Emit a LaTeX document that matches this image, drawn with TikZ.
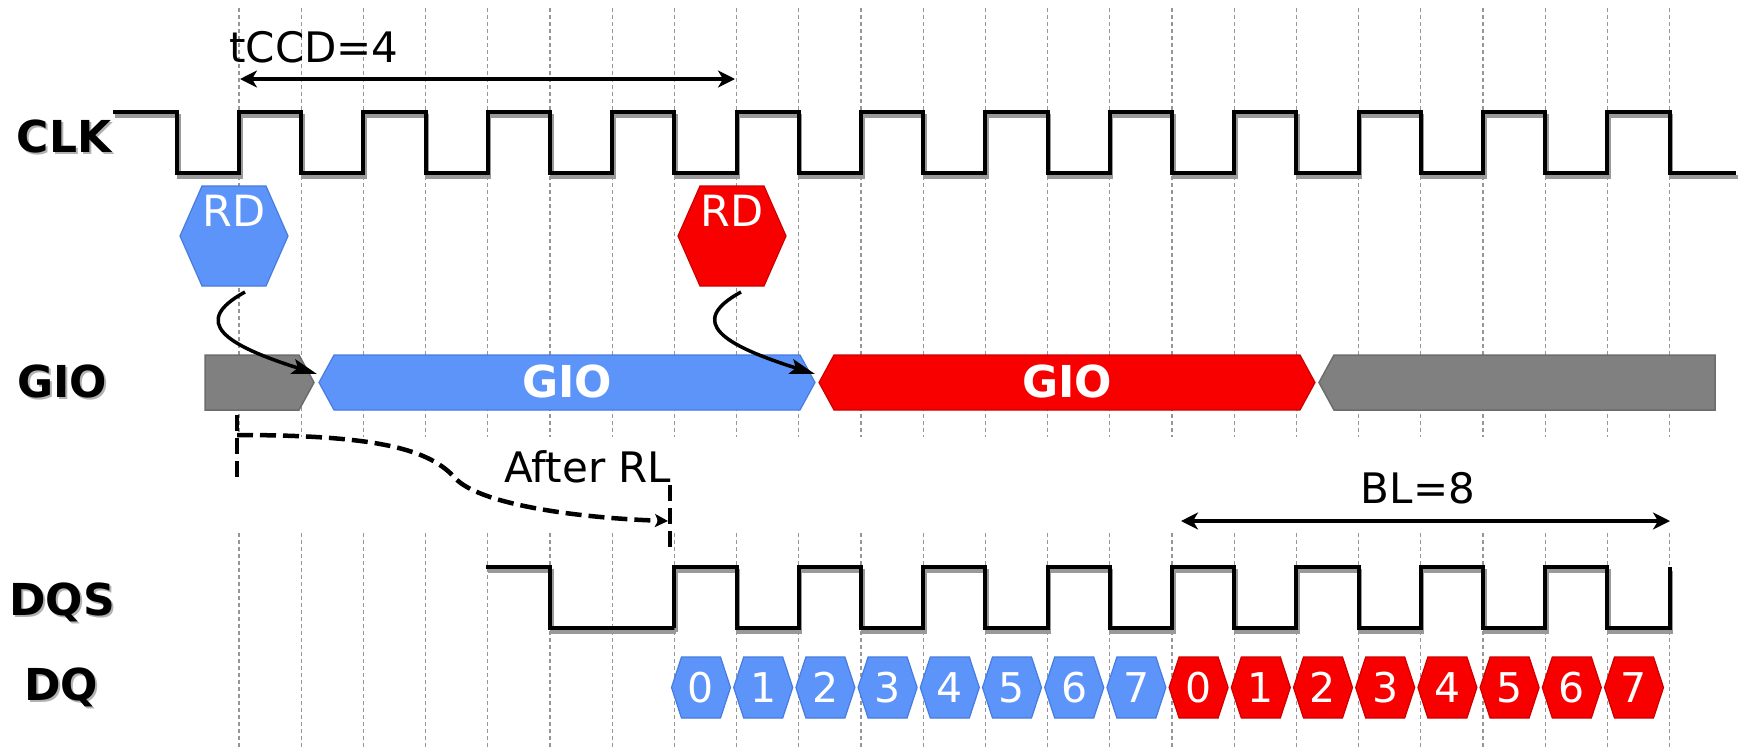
\documentclass[tikz,border=0pt]{standalone}
\usepackage{fontspec}
\setmainfont{DejaVu Sans}
\usetikzlibrary{arrows.meta}

\definecolor{busblue}{RGB}{92,148,250}
\definecolor{busbluedk}{RGB}{72,124,222}
\definecolor{busred}{RGB}{248,0,0}
\definecolor{busreddk}{RGB}{205,0,0}
\definecolor{busgray}{RGB}{128,128,128}
\definecolor{busgraydk}{RGB}{108,108,108}
\definecolor{gridgray}{RGB}{150,150,150}

% hexagon with pointed left/right ends: style, cx, cy, half width, half height, inset
\newcommand{\hexat}[6]{\filldraw[#1] ({#2-#4},{#3}) -- ({#2-#4+#6},{#3-#5}) -- ({#2+#4-#6},{#3-#5}) -- ({#2+#4},{#3}) -- ({#2+#4-#6},{#3+#5}) -- ({#2-#4+#6},{#3+#5}) -- cycle;}
% bus segment between y=355 and y=410: style, left tip x, right tip x, left slant, right slant
\newcommand{\busat}[5]{\filldraw[#1] (#2,382.5) -- ({#2+#4},355) -- ({#3-#5},355) -- (#3,382.5) -- ({#3-#5},410) -- ({#2+#4},410) -- cycle;}

\tikzset{
  gridline/.style={draw=gridgray, line width=1.3, dash pattern=on 4 off 3},
  wave/.style={draw=black, line width=4, line join=miter},
  waveshadow/.style={draw=black!40, line width=4, line join=miter, shift={(1.5,3.5)}},
  txt/.style={font=\fontsize{42}{48}\selectfont, inner sep=0, anchor=base},
  lbl/.style={font=\fontsize{44}{50}\selectfont\bfseries, inner sep=0, anchor=base},
  lblshadow/.style={lbl, text=black!30},
  bustxt/.style={font=\fontsize{44}{50}\selectfont\bfseries, text=white, inner sep=0, anchor=base},
  hextxt/.style={font=\fontsize{43}{50}\selectfont, text=white, inner sep=0, anchor=base},
  digtxt/.style={font=\fontsize{41}{48}\selectfont, text=white, inner sep=0, anchor=base},
  hexblue/.style={fill=busblue, draw=busbluedk, line width=1.2},
  hexred/.style={fill=busred, draw=busreddk, line width=1.2},
  busgrayst/.style={fill=busgray, draw=busgraydk, line width=1.5},
  span/.style={line width=4, {Stealth[length=17,width=17,inset=5]}-{Stealth[length=17,width=17,inset=5]}},
  flow/.style={line width=3.5, -{Stealth[length=25,width=15,inset=5]}},
  rldash/.style={line width=4.5, dash pattern=on 16 off 7},
}

\begin{document}
\begin{tikzpicture}[x=1pt, y=-1pt]
\useasboundingbox (0,0) rectangle (1743,748);
\fill[white] (0,0) rectangle (1743,748);

% clock grid
\foreach \k in {0,...,23} {
  \pgfmathsetmacro\gx{239+62.2*\k}
  \draw[gridline] (\gx,8) -- (\gx,437) (\gx,533) -- (\gx,748);
}

% signal names
\foreach \nm/\yy/\xx in {CLK/152/64, GIO/397/62, DQS/615/62, DQ/700/61} {
  \node[lblshadow] (\nm S) at (\xx+2,\yy+2.5) {\nm};
  \node[lbl] (\nm) at (\xx,\yy) {\nm};
}

% CLK waveform
\foreach \st in {waveshadow, wave} {
  \draw[\st] (113,112) -- (177,112) -- (177,173) -- (239,173)
    \foreach \k in {0,2,...,22} { -- ({239+62.2*\k},173) -- ({239+62.2*\k},112)
      -- ({239+62.2*(\k+1)},112) -- ({239+62.2*(\k+1)},173) } -- (1736,173);
}

% tCCD span
\node[txt] (tccd) at (314,62) {tCCD=4};
\coordinate (tccdL) at (240,79);
\coordinate (tccdR) at (735,79);
\draw[span] (tccdL) -- (tccdR);

% read commands
\hexat{hexblue}{234}{236}{54}{50}{22}
\hexat{hexred}{732}{236}{54}{50}{22}
\node[hextxt] (rdA) at (234,226) {RD};
\node[hextxt] (rdB) at (732,226) {RD};

% GIO bus
\busat{busgrayst}{205}{314}{0}{15}
\busat{hexblue}{319}{815}{15}{15}
\busat{hexred}{819}{1315}{15}{15}
\busat{busgrayst}{1319}{1715}{15}{0}
\node[bustxt] (gioA) at (567,397) {GIO};
\node[bustxt] (gioB) at (1067,397) {GIO};

% command to bus arrows
\coordinate (rdAfoot) at (245,292);
\coordinate (rdBfoot) at (741,292);
\coordinate (gioAin) at (317,374);
\coordinate (gioBin) at (815,374);
\draw[flow] (rdAfoot) .. controls +(-55,30) and +(-92,-29) .. (gioAin);
\draw[flow] (rdBfoot) .. controls +(-55,30) and +(-92,-29) .. (gioBin);

% read latency
\coordinate (rlStart) at (237,435);
\coordinate (rlMid) at (455,478);
\coordinate (rlEnd) at (668,521);
\draw[rldash] (237,415) -- (237,477);
\draw[rldash] (670,485) -- (670,548);
\draw[rldash, -{Stealth[length=13,width=13,inset=3]}] (rlStart) .. controls (380,435) and (430,450) .. (rlMid)
  .. controls (480,505) and (580,518) .. (rlEnd);
\node[txt] (rl) at (588,482) {After RL};

% burst length span
\node[txt] (bl) at (1418,503) {BL=8};
\coordinate (blL) at (1181,521);
\coordinate (blR) at (1670,521);
\draw[span] (blL) -- (blR);

% DQS waveform
\foreach \st in {waveshadow, wave} {
  \draw[\st] (486,567) -- (550,567) -- (550,628) -- (674.4,628)
    \foreach \k in {7,9,...,21} { -- ({239+62.2*\k},628) -- ({239+62.2*\k},567)
      -- ({239+62.2*(\k+1)},567) -- ({239+62.2*(\k+1)},628) } -- (1669.6,628) -- (1669.6,567);
}

% DQ data beats
\foreach \i in {0,...,15} {
  \pgfmathsetmacro\cx{239+62.2*(7.5+\i)-4.5}
  \pgfmathtruncatemacro\d{mod(\i,8)}
  \ifnum\i<8
    \hexat{hexblue}{\cx}{687.5}{29.5}{30.5}{10}
  \else
    \hexat{hexred}{\cx}{687.5}{29.5}{30.5}{10}
  \fi
  \node[digtxt] (dq\i) at (\cx,702) {\d};
}
\end{tikzpicture}
\end{document}
